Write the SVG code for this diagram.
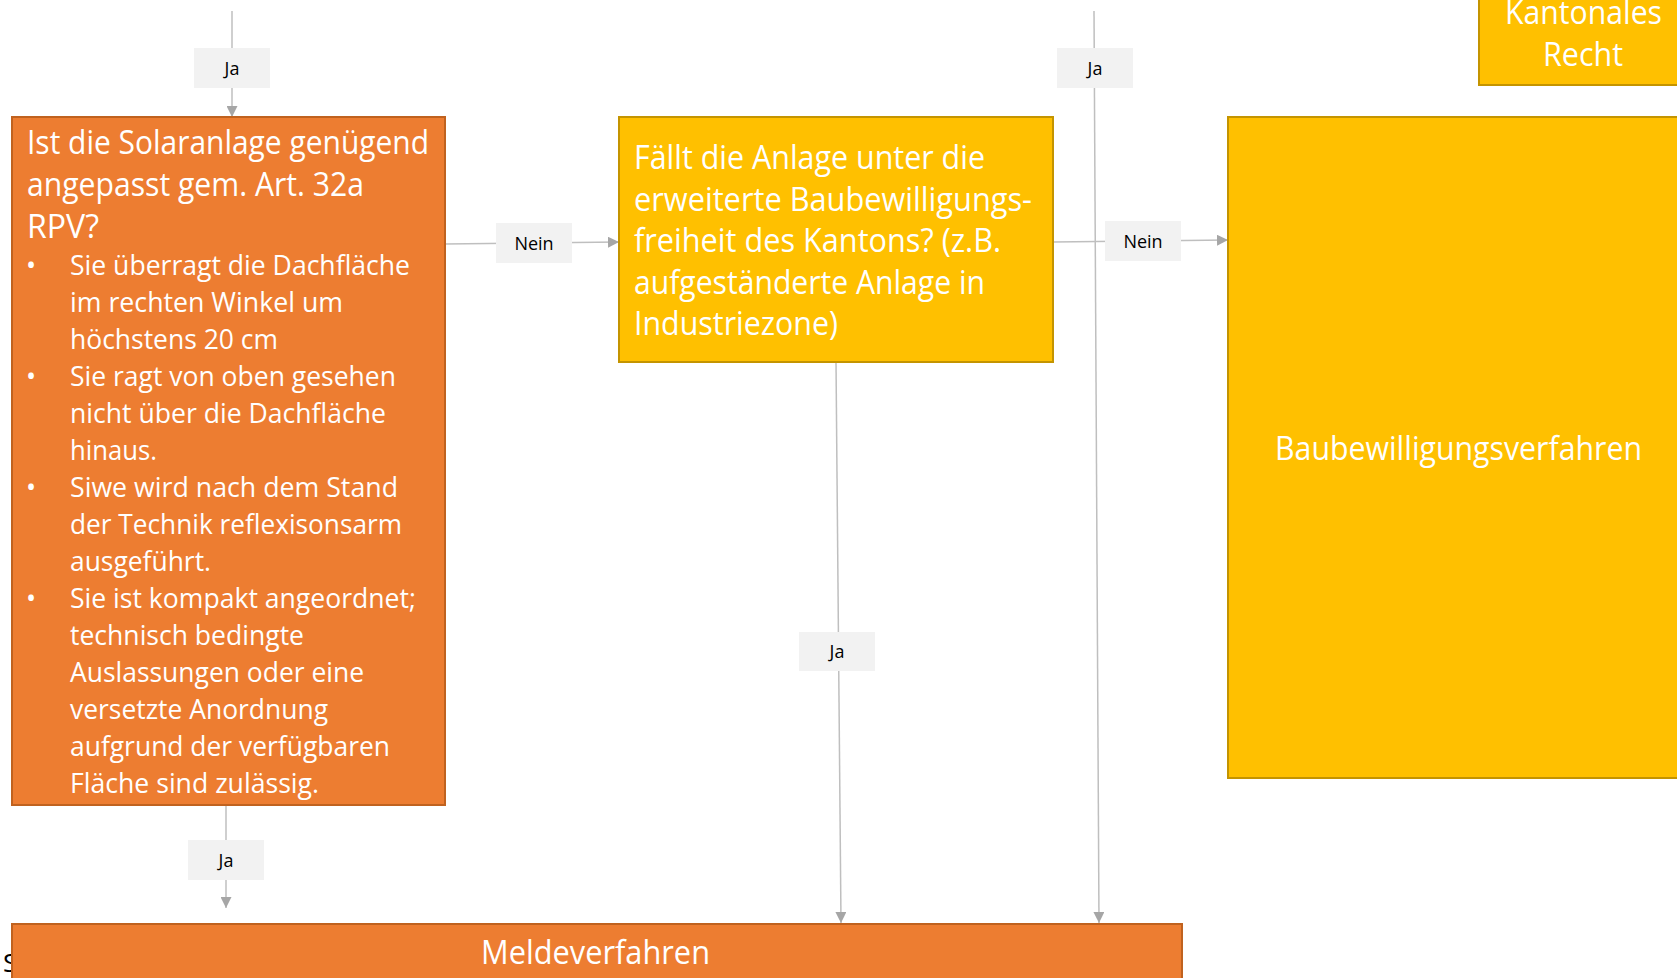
<svg xmlns="http://www.w3.org/2000/svg" width="1677" height="978" viewBox="0 0 1677 978">
<style>
.orange{fill:#ED7D31;stroke:#C0621F;stroke-width:2}
.yellow{fill:#FFC000;stroke:#C49400;stroke-width:2}
.wt{fill:#FFFFFF;font-family:"Open Sans","Noto Sans","Liberation Sans",sans-serif}
.big{font-size:32px}
.mid{font-size:27px}
.conn{stroke:#BFBFBF;stroke-width:1.5;fill:none}
.lbl{fill:#F2F2F2}
.lt{fill:#000000;font-family:"Open Sans","Liberation Sans",sans-serif;font-size:18px;text-anchor:middle}
</style>
<defs>
<marker id="ah" markerUnits="userSpaceOnUse" markerWidth="12" markerHeight="11" refX="11" refY="5.5" orient="auto">
<path d="M0,0 L11,5.5 L0,11 z" fill="#A6A6A6"/>
</marker>
</defs>
<rect width="1677" height="978" fill="#FFFFFF"/>
<text x="3" y="972" font-family="Open Sans, Liberation Sans, sans-serif" font-size="26" fill="#000000">S</text>

<g id="connectors">
<line class="conn" x1="232" y1="11" x2="232" y2="117" marker-end="url(#ah)"/>
<line class="conn" x1="445" y1="244" x2="619" y2="242" marker-end="url(#ah)"/>
<line class="conn" x1="226" y1="805" x2="226" y2="908" marker-end="url(#ah)"/>
<line class="conn" x1="836" y1="362" x2="841" y2="923" marker-end="url(#ah)"/>
<line class="conn" x1="1094" y1="11" x2="1099" y2="923" marker-end="url(#ah)"/>
<line class="conn" x1="1053" y1="242" x2="1228" y2="240" marker-end="url(#ah)"/>
<g id="label-ja-top-left"><rect class="lbl" x="194" y="48" width="76" height="40"/><text class="lt" x="232" y="75">Ja</text></g>
<g id="label-nein-left"><rect class="lbl" x="496" y="223" width="76" height="40"/><text class="lt" x="534" y="250">Nein</text></g>
<g id="label-ja-bottom-left"><rect class="lbl" x="188" y="840" width="76" height="40"/><text class="lt" x="226" y="867">Ja</text></g>
<g id="label-ja-middle"><rect class="lbl" x="799" y="632" width="76" height="39"/><text class="lt" x="837" y="658">Ja</text></g>
<g id="label-ja-top-right"><rect class="lbl" x="1057" y="48" width="76" height="40"/><text class="lt" x="1095" y="75">Ja</text></g>
<g id="label-nein-right"><rect class="lbl" x="1105" y="221" width="76" height="40"/><text class="lt" x="1143" y="248">Nein</text></g>
</g>

<g id="node-solaranlage">
<rect class="orange" x="12" y="117" width="433" height="688"/>
<text class="wt big" x="27" y="154" textLength="402" lengthAdjust="spacingAndGlyphs">Ist die Solaranlage genügend</text>
<text class="wt big" x="27" y="196" textLength="337" lengthAdjust="spacingAndGlyphs">angepasst gem. Art. 32a</text>
<text class="wt big" x="27" y="238" textLength="72" lengthAdjust="spacingAndGlyphs">RPV?</text>
<g class="wt mid">
<text x="26" y="275">•</text>
<text x="26" y="386">•</text>
<text x="26" y="497">•</text>
<text x="26" y="608">•</text>
<text x="70" y="275" textLength="340" lengthAdjust="spacingAndGlyphs">Sie überragt die Dachfläche</text>
<text x="70" y="312" textLength="273" lengthAdjust="spacingAndGlyphs">im rechten Winkel um</text>
<text x="70" y="349" textLength="208" lengthAdjust="spacingAndGlyphs">höchstens 20 cm</text>
<text x="70" y="386" textLength="326" lengthAdjust="spacingAndGlyphs">Sie ragt von oben gesehen</text>
<text x="70" y="423" textLength="316" lengthAdjust="spacingAndGlyphs">nicht über die Dachfläche</text>
<text x="70" y="460" textLength="87" lengthAdjust="spacingAndGlyphs">hinaus.</text>
<text x="70" y="497" textLength="328" lengthAdjust="spacingAndGlyphs">Siwe wird nach dem Stand</text>
<text x="70" y="534" textLength="332" lengthAdjust="spacingAndGlyphs">der Technik reflexisonsarm</text>
<text x="70" y="571" textLength="141" lengthAdjust="spacingAndGlyphs">ausgeführt.</text>
<text x="70" y="608" textLength="346" lengthAdjust="spacingAndGlyphs">Sie ist kompakt angeordnet;</text>
<text x="70" y="645" textLength="234" lengthAdjust="spacingAndGlyphs">technisch bedingte</text>
<text x="70" y="682" textLength="294" lengthAdjust="spacingAndGlyphs">Auslassungen oder eine</text>
<text x="70" y="719" textLength="258" lengthAdjust="spacingAndGlyphs">versetzte Anordnung</text>
<text x="70" y="756" textLength="320" lengthAdjust="spacingAndGlyphs">aufgrund der verfügbaren</text>
<text x="70" y="793" textLength="249" lengthAdjust="spacingAndGlyphs">Fläche sind zulässig.</text>
</g>
</g>

<g id="node-baubewilligungsfreiheit">
<rect class="yellow" x="619" y="117" width="434" height="245"/>
<g class="wt big">
<text x="634" y="169" textLength="351" lengthAdjust="spacingAndGlyphs">Fällt die Anlage unter die</text>
<text x="634" y="211" textLength="398" lengthAdjust="spacingAndGlyphs">erweiterte Baubewilligungs-</text>
<text x="634" y="252" textLength="367" lengthAdjust="spacingAndGlyphs">freiheit des Kantons? (z.B.</text>
<text x="634" y="294" textLength="351" lengthAdjust="spacingAndGlyphs">aufgeständerte Anlage in</text>
<text x="634" y="335" textLength="204" lengthAdjust="spacingAndGlyphs">Industriezone)</text>
</g>
</g>

<g id="node-baubewilligungsverfahren">
<rect class="yellow" x="1228" y="117" width="460" height="661"/>
<text class="wt big" x="1275" y="460" textLength="367" lengthAdjust="spacingAndGlyphs">Baubewilligungsverfahren</text>
</g>

<g id="node-kantonales-recht">
<rect class="yellow" x="1479" y="-10" width="210" height="95"/>
<text class="wt big" x="1505" y="24" textLength="157" lengthAdjust="spacingAndGlyphs">Kantonales</text>
<text class="wt big" x="1543" y="66" textLength="80" lengthAdjust="spacingAndGlyphs">Recht</text>
</g>

<g id="node-meldeverfahren">
<rect class="orange" x="12" y="924" width="1170" height="70"/>
<text class="wt big" x="481" y="964" textLength="229" lengthAdjust="spacingAndGlyphs">Meldeverfahren</text>
</g>
</svg>
